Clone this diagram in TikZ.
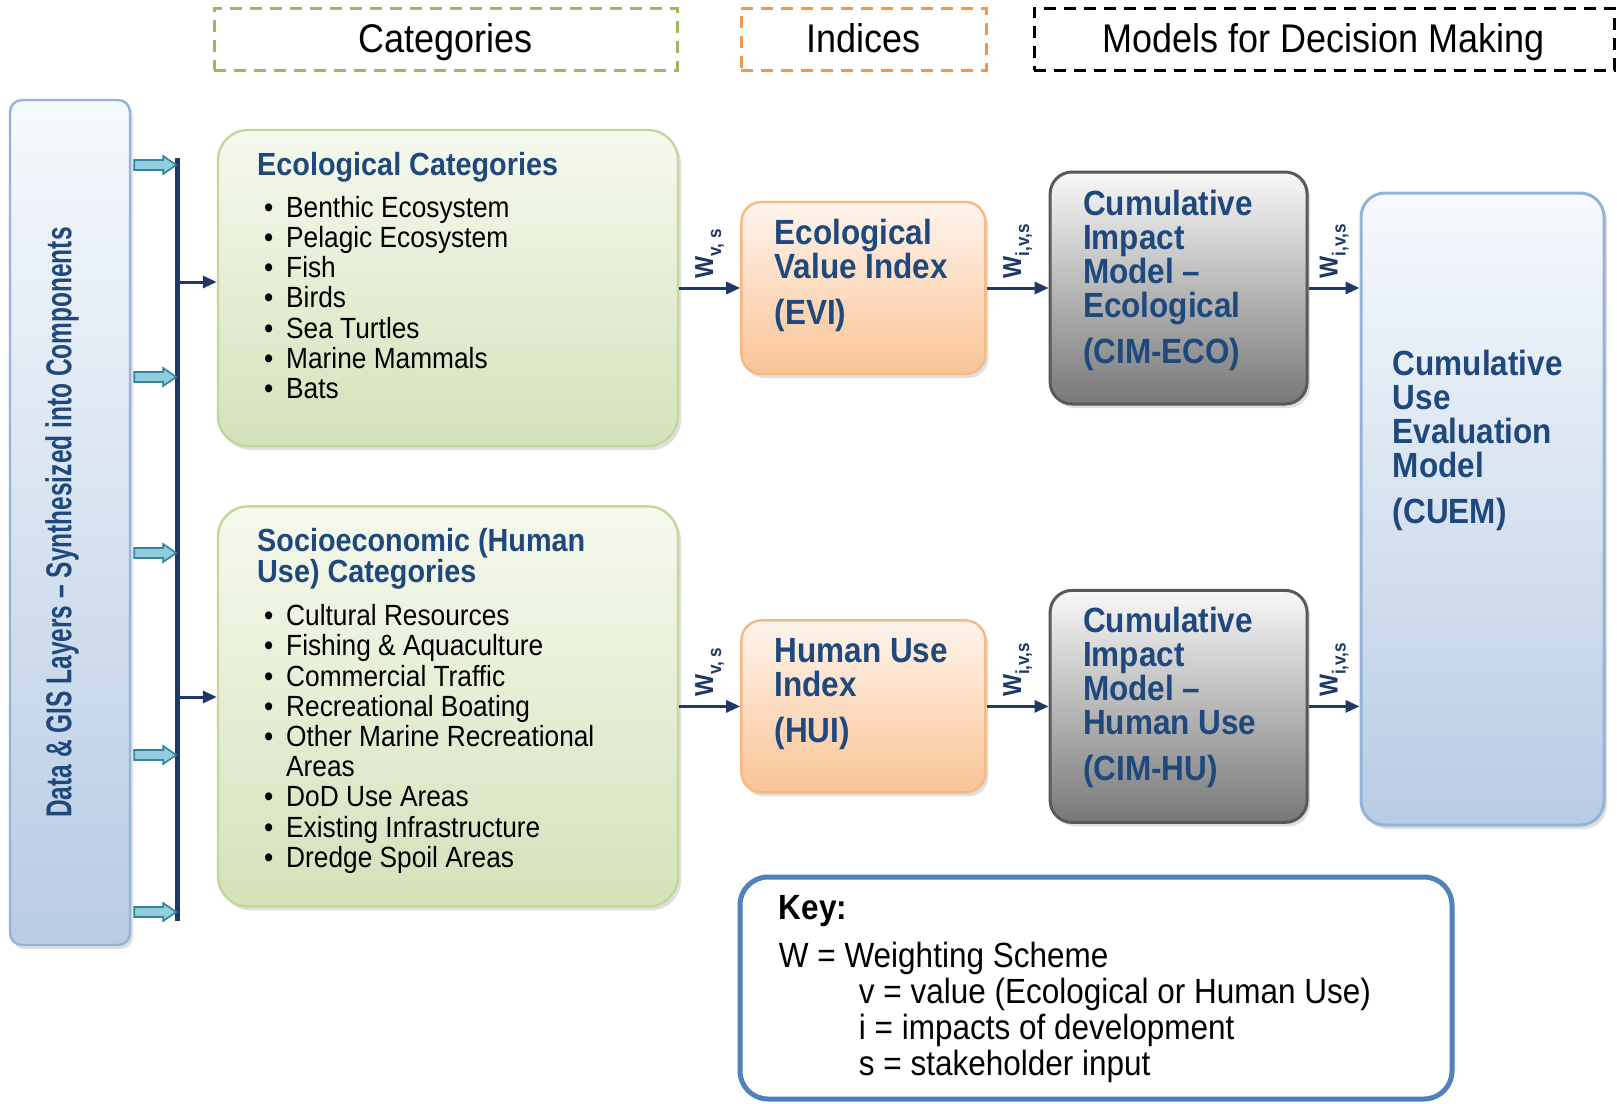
\documentclass[tikz,border=0pt]{standalone}
\usepackage{fontspec}
\setmainfont{Liberation Sans}[FakeStretch=0.9]
\newfontfamily\narrowfont{Liberation Sans}[FakeStretch=0.68]
\usetikzlibrary{arrows.meta, positioning, calc, shadows}

\definecolor{titleblue}{RGB}{31,73,125}
\definecolor{navy}{RGB}{31,56,100}
\definecolor{catborder}{RGB}{195,214,155}
\definecolor{cattop}{RGB}{246,249,238}
\definecolor{catbot}{RGB}{212,226,186}
\definecolor{idxborder}{RGB}{247,185,130}
\definecolor{idxtop}{RGB}{254,244,236}
\definecolor{idxbot}{RGB}{250,196,150}
\definecolor{cimborder}{RGB}{89,89,89}
\definecolor{cimtop}{RGB}{248,248,248}
\definecolor{cimbot}{RGB}{120,120,120}
\definecolor{bluetop}{RGB}{246,249,253}
\definecolor{bluebot}{RGB}{184,204,228}
\definecolor{blueborder}{RGB}{149,179,215}
\definecolor{keyborder}{RGB}{79,129,189}
\definecolor{cyanfill}{RGB}{147,205,221}
\definecolor{cyanborder}{RGB}{49,133,156}
\definecolor{hdrgreen}{RGB}{155,187,89}
\definecolor{hdrorange}{RGB}{247,150,70}

\newcommand{\itm}{\makebox[11pt][l]{\textbullet}}
\newcommand{\wsub}[1]{W\raisebox{-4pt}{\fontsize{9.5}{10}\selectfont #1}}

\begin{document}
\begin{tikzpicture}[
  x=0.5pt, y=-0.5pt,
  shade/.style={drop shadow={shadow xshift=1.5pt, shadow yshift=-2pt, opacity=0.25}},
  hdr/.style={dashed, dash pattern=on 6pt off 4pt, line width=1.5pt, minimum height=31pt,
              text height=16pt, text depth=3pt, font=\fontsize{20}{22}\selectfont},
  databox/.style={shade, draw=blueborder, line width=1.2pt, rounded corners=6pt,
                  top color=bluetop, bottom color=bluebot, minimum width=60pt, minimum height=422.5pt},
  catbox/.style={shade, draw=catborder, line width=1.2pt, rounded corners=15pt,
                 top color=cattop, bottom color=catbot, minimum width=230pt},
  idxbox/.style={shade, draw=idxborder, line width=1.2pt, rounded corners=10pt,
                 top color=idxtop, bottom color=idxbot, minimum width=122pt, minimum height=86pt},
  cimbox/.style={shade, draw=cimborder, line width=1.5pt, rounded corners=11pt,
                 top color=cimtop, bottom color=cimbot, minimum width=128.5pt, minimum height=116pt},
  cuembox/.style={shade, draw=blueborder, line width=1.5pt, rounded corners=12pt,
                  top color=bluetop, bottom color=bluebot, minimum width=121.5pt, minimum height=316pt},
  keybox/.style={draw=keyborder, line width=2.5pt, rounded corners=14pt, fill=white,
                 minimum width=356pt, minimum height=111pt},
  boxtxt/.style={font=\bfseries\fontsize{17.5}{17}\selectfont, text=titleblue, align=left,
                 inner sep=0pt, anchor=north west},
  cattitle/.style={font=\bfseries\fontsize{16}{15.5}\selectfont, text=titleblue, align=left,
                   inner sep=0pt, anchor=north west},
  catlist/.style={font=\fontsize{14.6}{15.1}\selectfont, align=left, inner sep=0pt, anchor=north west},
  keytxt/.style={font=\fontsize{17.5}{18}\selectfont, align=left, inner sep=0pt, anchor=north west},
  datalbl/.style={font=\narrowfont\bfseries\fontsize{18}{18}\selectfont, text=titleblue, rotate=90},
  wlbl/.style={font=\bfseries\fontsize{13}{13}\selectfont, rotate=90, anchor=west,
               inner xsep=4pt, inner ysep=0pt},
  arr/.style={-{Triangle[length=7pt, width=6pt]}, line width=1.5pt, navy},
  bar/.style={line width=2.5pt, navy},
  feed/.style={draw=cyanborder, fill=cyanfill, line width=0.8pt}
]
\fill[white] (0,0) rectangle (1617,1103);
\useasboundingbox (0,0) rectangle (1617,1103);

% Headers
\node[hdr, draw=hdrgreen, minimum width=231.5pt] (hcat) at (445.5,39) {Categories};
\node[hdr, draw=hdrorange, minimum width=122.5pt] (hidx) at (863.5,39) {Indices};
\node[hdr, draw=black, minimum width=290pt] (hmod) at (1324,39) {Models for Decision Making};

% Data layers and feed bar
\node[databox] (data) at (70,522.5) {};
\node[datalbl] (datatxt) at ([xshift=-4pt]data.center)
  {Data \& GIS Layers \textendash{} Synthesized into Components};
\coordinate (bartop) at (177.5,158);
\coordinate (barbot) at (177.5,921);
\draw[bar] (bartop) -- (barbot);
\foreach \y in {165,377,553,755,912}
  \draw[feed] (data.east |- 0,\y) ++(3,-5) -- ++(29,0) -- ++(0,-4) -- ++(13,9)
    -- ++(-13,9) -- ++(0,-4) -- ++(-29,0) -- cycle;

% Row 1
\node[catbox, minimum height=158pt] (eco) at (448,288) {};
\node[idxbox, right=30.5pt of eco] (evi) {};
\node[cimbox, right=31pt of evi] (cimeco) {};
\node[cuembox] (cuem) at (1482.5,509) {};

% Row 2
\node[catbox, minimum height=200pt, below=29pt of eco] (soc) {};
\node[idxbox, right=30.5pt of soc] (hui) {};
\node[cimbox, right=31pt of hui] (cimhu) {};

% Texts
\node[cattitle] (ecotitle) at ([shift={(40,23)}]eco.north west) {Ecological Categories};
\node[catlist] (ecolist) at ([shift={(47,67)}]eco.north west)
  {\itm Benthic Ecosystem\\\itm Pelagic Ecosystem\\\itm Fish\\\itm Birds\\
   \itm Sea Turtles\\\itm Marine Mammals\\\itm Bats};
\node[cattitle] (soctitle) at ([shift={(40,23)}]soc.north west) {Socioeconomic (Human\\Use) Categories};
\node[catlist] (soclist) at ([shift={(47,99)}]soc.north west)
  {\itm Cultural Resources\\\itm Fishing \& Aquaculture\\\itm Commercial Traffic\\
   \itm Recreational Boating\\\itm Other Marine Recreational\\\hspace*{11pt}Areas\\
   \itm DoD Use Areas\\\itm Existing Infrastructure\\\itm Dredge Spoil Areas};
\node[boxtxt] (evitxt) at ([shift={(34,18)}]evi.north west) {Ecological\\Value Index\\[6pt](EVI)};
\node[boxtxt] (huitxt) at ([shift={(34,19)}]hui.north west) {Human Use\\Index\\[6pt](HUI)};
\node[boxtxt] (cimecotxt) at ([shift={(34,19)}]cimeco.north west)
  {Cumulative\\Impact\\Model \textendash\\Ecological\\[6pt](CIM-ECO)};
\node[boxtxt] (cimhutxt) at ([shift={(34,18)}]cimhu.north west)
  {Cumulative\\Impact\\Model \textendash\\Human Use\\[6pt](CIM-HU)};
\node[boxtxt] (cuemtxt) at ([shift={(33,158)}]cuem.north west)
  {Cumulative\\Use\\Evaluation\\Model\\[6pt](CUEM)};

% Connectors
\draw[arr] (bartop |- 0,282) -- (eco.west |- 0,282);
\draw[arr] (bartop |- 0,697) -- (soc.west |- 0,697);
\draw[arr] (eco.east) -- node[wlbl] (w1) {\wsub{v, s}} (evi.west);
\draw[arr] (evi.east) -- node[wlbl] (w2) {\wsub{i,v,s}} (cimeco.west);
\draw[arr] (cimeco.east) -- node[wlbl] (w3) {\wsub{i,v,s}} (cimeco.east -| cuem.west);
\draw[arr] (soc.east) -- node[wlbl] (w4) {\wsub{v, s}} (hui.west);
\draw[arr] (hui.east) -- node[wlbl] (w5) {\wsub{i,v,s}} (cimhu.west);
\draw[arr] (cimhu.east) -- node[wlbl] (w6) {\wsub{i,v,s}} (cimhu.east -| cuem.west);

% Key
\node[keybox] (key) at (1096,988) {};
\node[keytxt, font=\bfseries\fontsize{17.5}{18}\selectfont] (keyhd) at ([shift={(41,21)}]key.north west) {Key:};
\node[keytxt] (keylines) at ([shift={(41,67)}]key.north west)
  {W = Weighting Scheme\\\hspace*{40pt}v = value (Ecological or Human Use)\\
   \hspace*{40pt}i = impacts of development\\\hspace*{40pt}s = stakeholder input};
\end{tikzpicture}
\end{document}
